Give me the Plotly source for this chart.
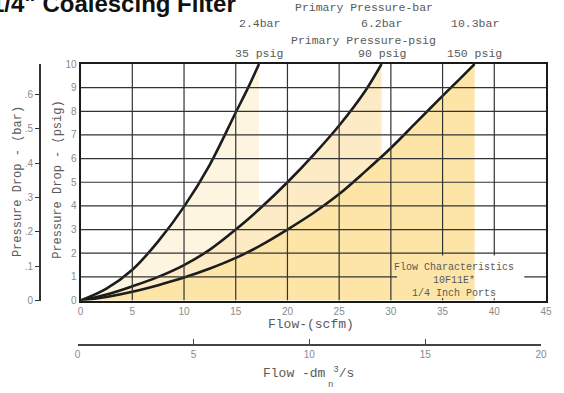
import plotly.graph_objects as go

# ---------------- data ----------------
flow_35 = [0, 2.5, 5, 7.5, 10, 12.5, 15, 16.2, 17.25]
dp_35 = [0, 0.5, 1.3, 2.5, 3.97, 5.75, 7.95, 9.0, 10.0]

flow_90 = [0, 2.5, 5, 7.5, 10, 12.5, 15, 17.5, 20, 22.5, 25, 27.5, 29.1]
dp_90 = [0, 0.25, 0.6, 1.0, 1.5, 2.15, 3.0, 3.95, 5.0, 6.15, 7.4, 8.85, 10.0]

flow_150 = [0, 2.5, 5, 7.5, 10, 12.5, 15, 17.5, 20, 22.5, 25, 27.5, 30, 32.5, 35, 36.5, 38.1]
dp_150 = [0, 0.15, 0.37, 0.65, 0.97, 1.35, 1.8, 2.35, 3.0, 3.7, 4.5, 5.45, 6.45, 7.55, 8.65, 9.3, 10.0]

bar_labels = ["2.4bar", "6.2bar", "10.3bar"]
psig_labels = ["35 psig", "90 psig", "150 psig"]

x_ticks = [0, 5, 10, 15, 20, 25, 30, 35, 40, 45]
y_ticks = [0, 1, 2, 3, 4, 5, 6, 7, 8, 9, 10]
bar_ticks = [0, 0.1, 0.2, 0.3, 0.4, 0.5, 0.6]
bar_tick_text = ["0", ".1", ".2", ".3", ".4", ".5", ".6"]
dm3_ticks = [0, 5, 10, 15, 20]
PSI_PER_BAR = 14.5038

# ---------------- styling ----------------
fill_colors = ["#FEF5E0", "#FCEBC4", "#FDE5A8"]
MONO = "Liberation Mono"
SANS = "Liberation Sans"
TXT = "#5a5a5a"
TICK = "#8a8a8a"
GRID = "#333333"

fig = go.Figure()
series = [(flow_35, dp_35), (flow_90, dp_90), (flow_150, dp_150)]
for (fx, fy), col, name in zip(series, fill_colors, psig_labels):
    fig.add_trace(go.Scatter(
        x=fx, y=fy, mode="lines", fill="tozeroy", fillcolor=col,
        line=dict(color="#1c1c1c", width=2.6, shape="spline", smoothing=1.0),
        name=name, showlegend=False, hoverinfo="skip"))

# invisible helper traces so the secondary axes get drawn
fig.add_trace(go.Scatter(x=[0], y=[0], xaxis="x", yaxis="y2", mode="markers",
                         marker=dict(opacity=0), showlegend=False, hoverinfo="skip"))
fig.add_trace(go.Scatter(x=[0], y=[0], xaxis="x2", yaxis="y3", mode="markers",
                         marker=dict(opacity=0), showlegend=False, hoverinfo="skip"))

# grid lines above the fills (with a gap behind the caption box)
mask_x0, mask_x1, mask_y0, mask_y1 = 30.6, 42.9, 0.1, 1.9
shapes = []
xmin, xmax = x_ticks[0], x_ticks[-1]
ymin, ymax = y_ticks[0], y_ticks[-1]
for xv in x_ticks[1:-1]:
    segs = [(ymin, ymax)]
    if mask_x0 < xv < mask_x1:
        segs = [(ymin, mask_y0), (mask_y1, ymax)]
    for a, b in segs:
        shapes.append(dict(type="line", xref="x", yref="y", x0=xv, x1=xv, y0=a, y1=b,
                           line=dict(color=GRID, width=1.2), layer="above"))
for yv in y_ticks[1:-1]:
    segs = [(xmin, xmax)]
    if mask_y0 < yv < mask_y1:
        segs = [(xmin, mask_x0), (mask_x1, xmax)]
    for a, b in segs:
        shapes.append(dict(type="line", xref="x", yref="y", x0=a, x1=b, y0=yv, y1=yv,
                           line=dict(color=GRID, width=1.2), layer="above"))

W, H = 564, 393
ML, MR, MT, MB = 30, 14, 64, 20
PW, PH = W - ML - MR, H - MT - MB


def px(xp):
    return (xp - ML) / PW


def py(yp):
    return (H - MB - yp) / PH


annotations = []


def mono(s):
    return dict(family=MONO, size=s, color=TXT)


def note(text, x, y, font, xref="paper", **kw):
    d = dict(text=text, xref=xref, yref="paper", x=x, y=y, xanchor="center",
             yanchor="middle", showarrow=False, font=font)
    d.update(kw)
    annotations.append(d)


note("<b>1/4\" Coalescing Filter</b>", px(240), py(3),
     dict(family=SANS, size=24, color="#111111"), xanchor="right")
note("Primary Pressure-bar", px(367), py(8), mono(11.5))
note("Primary Pressure-psig", px(366), py(40), mono(11.5))
for (fx, fy), bl, pl in zip(series, bar_labels, psig_labels):
    note(bl, fx[-1], py(24), mono(11.5), xref="x")
    note(pl, fx[-1], py(53), mono(11.5), xref="x")

note("Pressure Drop - (bar)", px(18), py(182), mono(12), textangle=-90)
note("Pressure Drop - (psig)", px(58), py(180), mono(12), textangle=-90)
note("Flow-(scfm)", px(313), py(324), mono(13))
note("Flow -dm <sup>3</sup>/s", px(311), py(372), mono(13))
note("n", px(333), py(385), mono(9))
note("Flow Characteristics<br>10F11E*<br>1/4 Inch Ports", px(457), py(280), mono(10),
     align="center")

fig.update_layout(
    width=W, height=H,
    margin=dict(l=ML, r=MR, t=MT, b=MB, pad=0),
    paper_bgcolor="white", plot_bgcolor="white",
    showlegend=False,
    shapes=shapes,
    annotations=annotations,
    xaxis=dict(domain=[px(81), 1], range=[xmin, xmax], tickvals=x_ticks,
               showgrid=False, zeroline=False, showline=True, mirror=True,
               linecolor="#1a1a1a", linewidth=2, ticks="",
               tickfont=dict(family=SANS, size=10, color=TICK)),
    yaxis=dict(domain=[py(300.5), 1], range=[ymin, ymax], tickvals=y_ticks,
               showgrid=False, zeroline=False, showline=True, mirror=True,
               linecolor="#1a1a1a", linewidth=2, ticks="",
               tickfont=dict(family=SANS, size=10, color=TICK)),
    yaxis2=dict(overlaying="y", anchor="free", position=px(40), side="left",
                range=[0, ymax / PSI_PER_BAR], tickvals=bar_ticks, ticktext=bar_tick_text,
                showgrid=False, zeroline=False, showline=True, linecolor="#333333",
                linewidth=1.5, ticks="outside", ticklen=4, tickcolor="#333333",
                tickfont=dict(family=SANS, size=10, color=TICK)),
    xaxis2=dict(domain=[px(78), px(545)], range=[dm3_ticks[0], dm3_ticks[-1]],
                tickvals=dm3_ticks, anchor="free", position=py(345), side="bottom",
                showgrid=False, zeroline=False, showline=True, linecolor="#444444",
                linewidth=1.5, ticks="inside", ticklen=5, tickcolor="#444444",
                tickfont=dict(family=SANS, size=10, color=TICK)),
    yaxis3=dict(domain=[py(348), py(340)], range=[0, 1], visible=False,
                showgrid=False, zeroline=False),
)

fig.write_html("out.html", config={"displayModeBar": False},
               post_script="document.body.style.margin='0px';")
